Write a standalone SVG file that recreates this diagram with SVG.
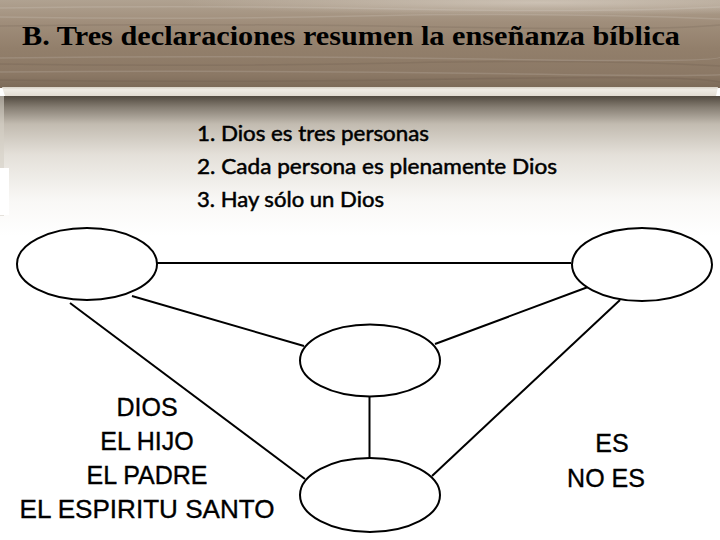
<svg xmlns="http://www.w3.org/2000/svg" width="720" height="540" viewBox="0 0 720 540">
  <defs>
    <linearGradient id="wood" x1="0" y1="0" x2="0" y2="1">
      <stop offset="0" stop-color="#b0a291"/>
      <stop offset="0.25" stop-color="#a08e7b"/>
      <stop offset="0.55" stop-color="#927f6b"/>
      <stop offset="0.85" stop-color="#8b7865"/>
      <stop offset="1" stop-color="#7b6957"/>
    </linearGradient>
    <radialGradient id="sheen" cx="0.75" cy="0.1" r="0.5" gradientTransform="matrix(1 0 0 0.3 0 0)">
      <stop offset="0" stop-color="#e4dcd2" stop-opacity="0.55"/>
      <stop offset="1" stop-color="#e4dcd2" stop-opacity="0"/>
    </radialGradient>
    <linearGradient id="shadow" x1="0" y1="0" x2="0" y2="1">
      <stop offset="0" stop-color="#51493f"/>
      <stop offset="0.08" stop-color="#857d72"/>
      <stop offset="0.2" stop-color="#c2bbb0"/>
      <stop offset="0.42" stop-color="#e4e0d9"/>
      <stop offset="0.75" stop-color="#f9f8f6"/>
      <stop offset="1" stop-color="#ffffff"/>
    </linearGradient>
    <linearGradient id="strip" x1="0" y1="0" x2="0" y2="1">
      <stop offset="0" stop-color="#d8d1c6"/>
      <stop offset="0.3" stop-color="#efebe4"/>
      <stop offset="1" stop-color="#e2dcd2"/>
    </linearGradient>
    <style>
      .node { fill: #ffffff; stroke: #000000; stroke-width: 2; }
      .edge { stroke: #000000; stroke-width: 2; fill: none; }
      .title { font-family: "Liberation Serif", "Times New Roman", serif; font-weight: bold; font-size: 27px; fill: #000000; }
      .list { font-family: Lato, "Open Sans", "Liberation Sans", sans-serif; font-size: 21px; fill: #000000; stroke: #000000; stroke-width: 0.5; }
      .label { font-family: "Liberation Sans", Arial, sans-serif; font-size: 25px; fill: #000000; stroke: #000000; stroke-width: 0.35; text-anchor: middle; }
      .streak { stroke: #ffffff; stroke-opacity: 0.12; stroke-width: 1.5; fill: none; }
      .dstreak { stroke: #4a3c2e; stroke-opacity: 0.12; stroke-width: 1.5; fill: none; }
    </style>
  </defs>

  <!-- background -->
  <rect x="0" y="0" width="720" height="540" fill="#ffffff"/>
  <rect x="0" y="96" width="720" height="140" fill="url(#shadow)"/>
  <rect x="0" y="96" width="4" height="120" fill="#d6d0c6" opacity="0.6"/>
  <rect x="0" y="168" width="9" height="47" fill="#ffffff"/>

  <!-- wood header -->
  <rect x="0" y="0" width="720" height="88" fill="url(#wood)"/>
  <rect x="0" y="0" width="720" height="88" fill="url(#sheen)"/>
  <path class="streak" d="M0 8 Q200 5 400 9 T720 7"/>
  <path class="streak" d="M0 17 Q180 20 360 16 T720 19"/>
  <path class="dstreak" d="M0 26 Q220 23 440 27 T720 25"/>
  <path class="streak" d="M0 58 Q240 55 480 59 T720 57"/>
  <path class="dstreak" d="M0 64 Q200 67 400 63 T720 66"/>
  <path class="streak" d="M0 72 Q260 70 520 74 T720 71"/>
  <path class="dstreak" d="M0 80 Q230 83 460 79 T720 82"/>
  <!-- light strip -->
  <path d="M2 87 L718 87 L716 96 L5 96 Z" fill="url(#strip)"/>

  <!-- title -->
  <text class="title" x="22" y="45" textLength="658" lengthAdjust="spacingAndGlyphs">B. Tres declaraciones resumen la enseñanza bíblica</text>

  <!-- list -->
  <text class="list" x="197" y="141" textLength="232" lengthAdjust="spacingAndGlyphs">1. Dios es tres personas</text>
  <text class="list" x="197" y="174" textLength="360" lengthAdjust="spacingAndGlyphs">2. Cada persona es plenamente Dios</text>
  <text class="list" x="197" y="207" textLength="187" lengthAdjust="spacingAndGlyphs">3. Hay sólo un Dios</text>

  <!-- connectors -->
  <g id="connectors">
    <line class="edge" x1="157" y1="263" x2="571" y2="263"/>
    <line class="edge" x1="132" y1="296" x2="304" y2="346"/>
    <line class="edge" x1="588" y1="287" x2="435" y2="344"/>
    <line class="edge" x1="70" y1="303" x2="305" y2="479"/>
    <line class="edge" x1="620" y1="300" x2="432" y2="476"/>
    <line class="edge" x1="369.5" y1="397" x2="369.5" y2="458"/>
  </g>

  <!-- nodes -->
  <g id="node-top-left">
    <ellipse class="node" cx="87" cy="264" rx="70" ry="36"/>
  </g>
  <g id="node-top-right">
    <ellipse class="node" cx="642" cy="264.5" rx="70" ry="36.5"/>
  </g>
  <g id="node-middle">
    <ellipse class="node" cx="370" cy="360.5" rx="70" ry="36"/>
  </g>
  <g id="node-bottom">
    <ellipse class="node" cx="370" cy="495" rx="70" ry="37"/>
  </g>

  <!-- labels -->
  <g id="terms">
    <text class="label" x="147" y="416">DIOS</text>
    <text class="label" x="147" y="450">EL HIJO</text>
    <text class="label" x="147" y="484">EL PADRE</text>
    <text class="label" x="147" y="518" textLength="255" lengthAdjust="spacingAndGlyphs">EL ESPIRITU SANTO</text>
  </g>
  <g id="relations">
    <text class="label" x="612" y="452">ES</text>
    <text class="label" x="606" y="487">NO ES</text>
  </g>
</svg>
